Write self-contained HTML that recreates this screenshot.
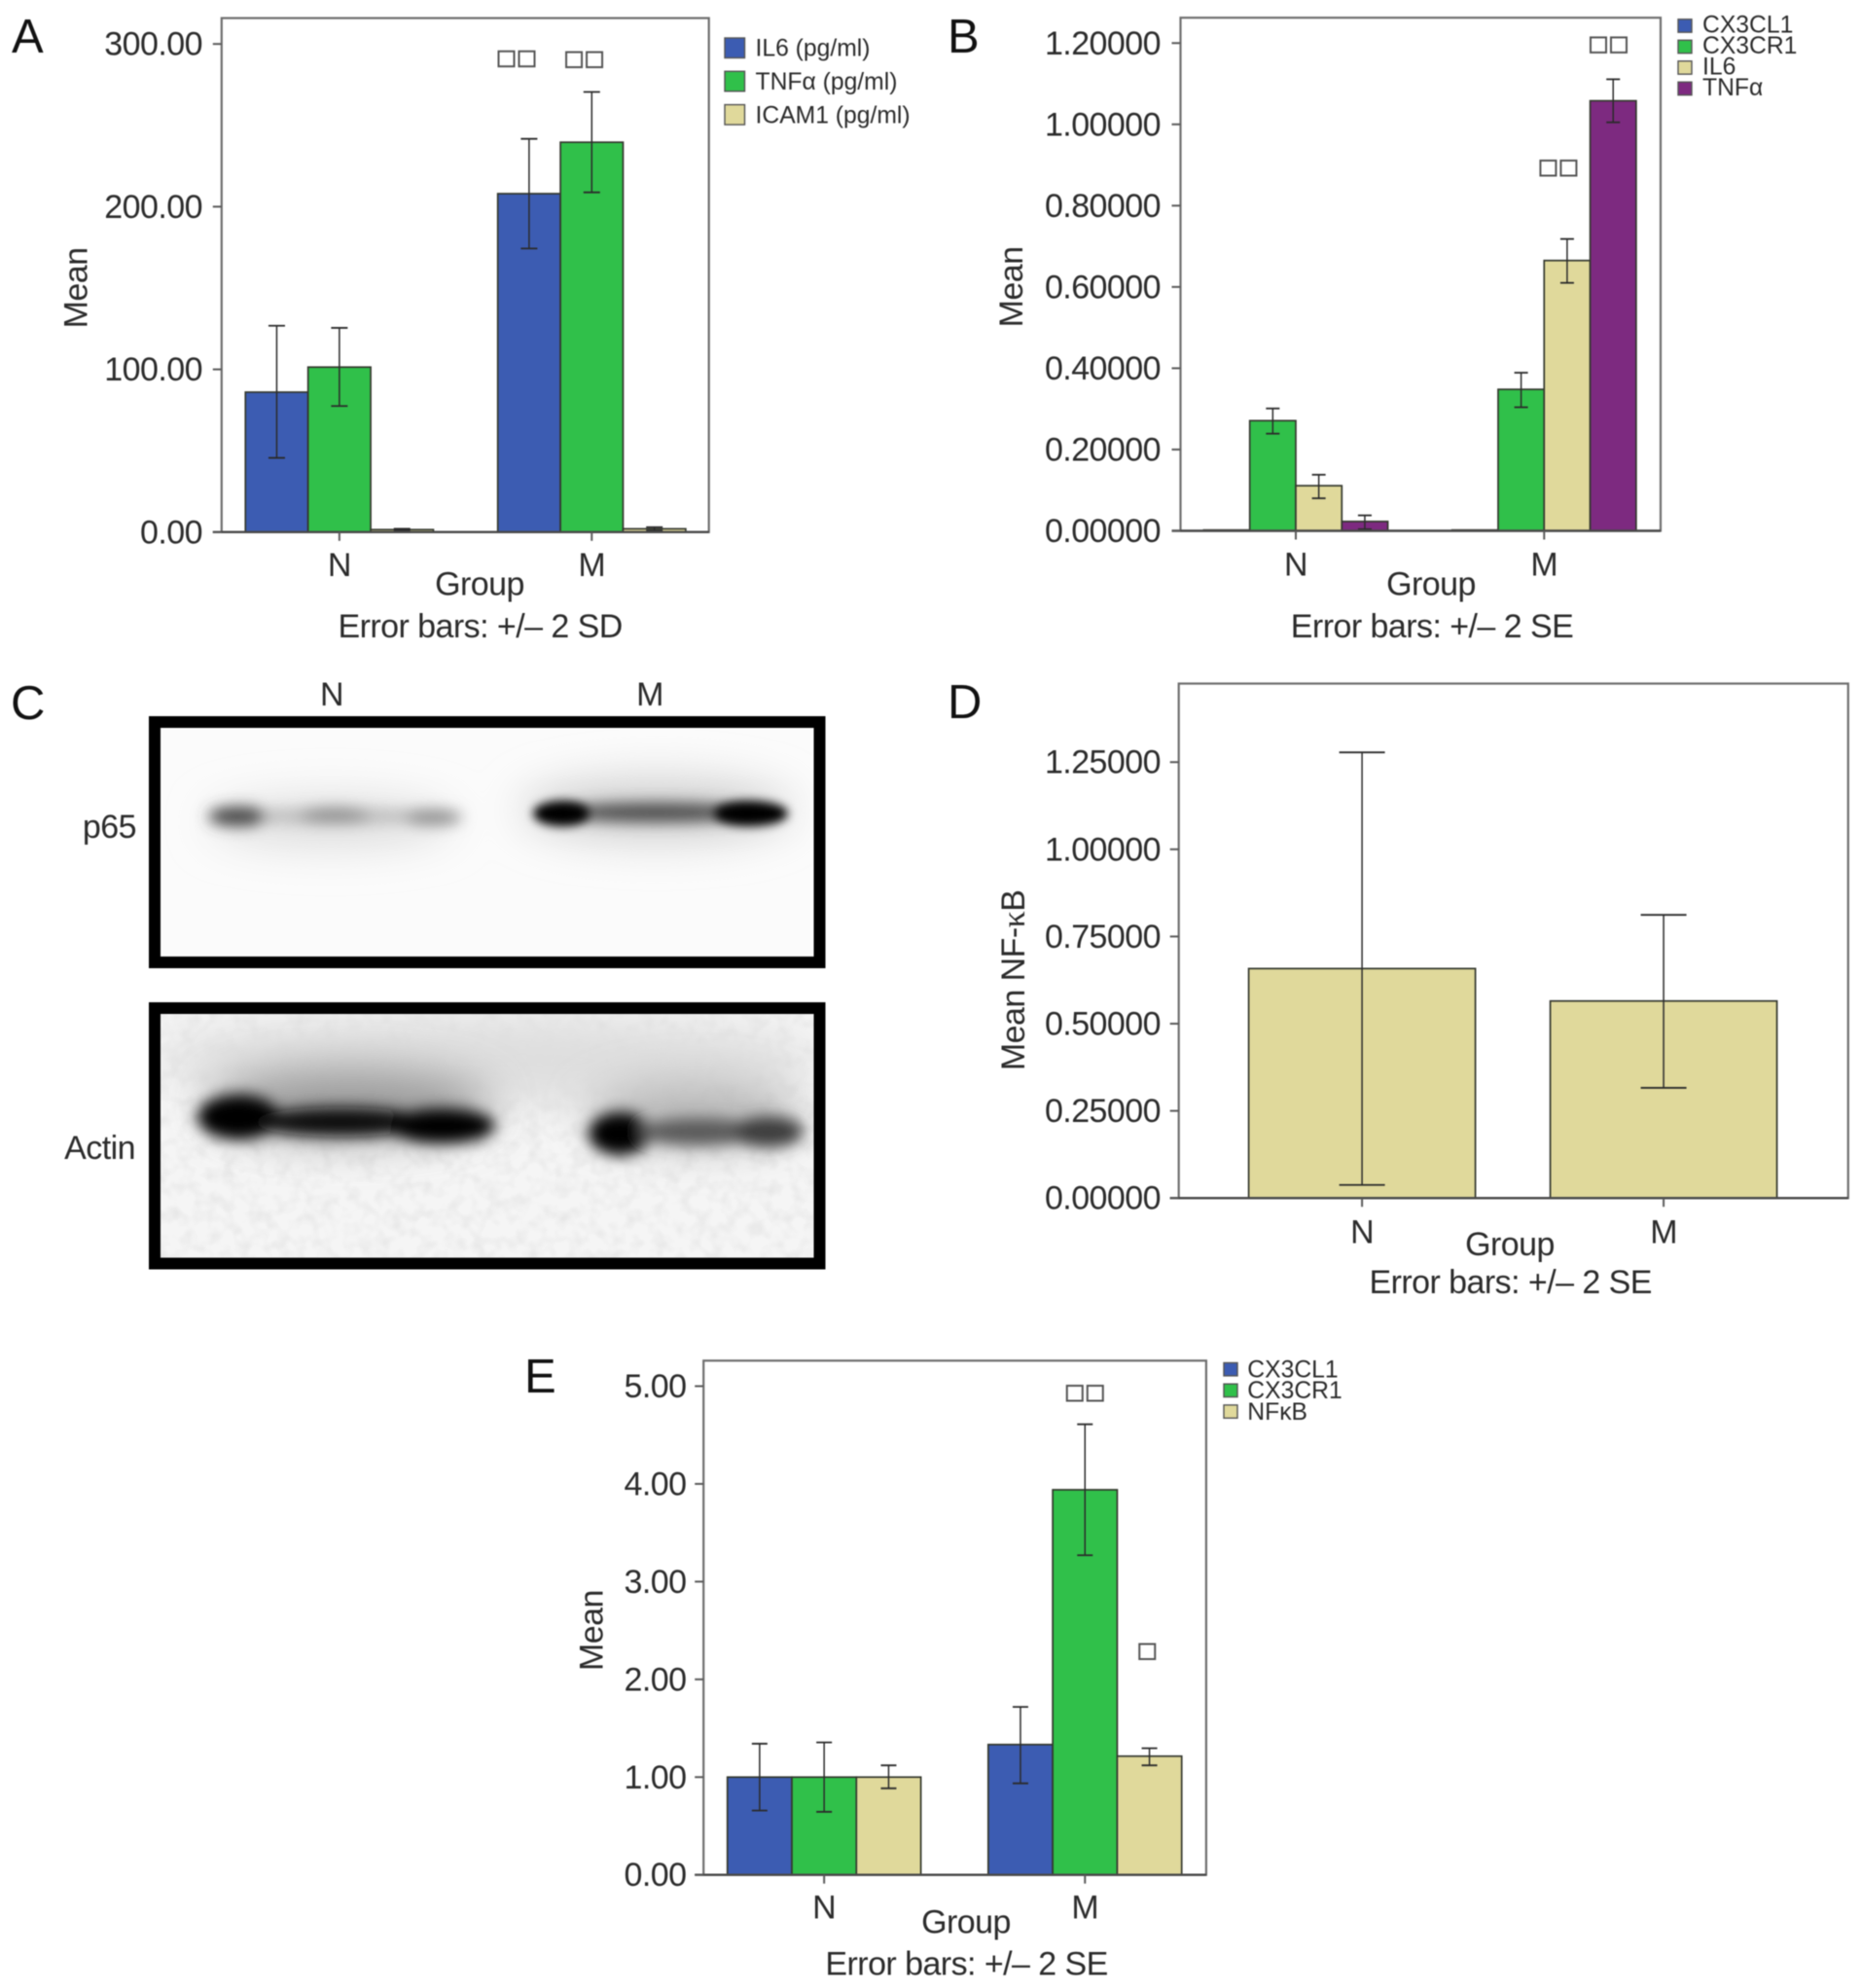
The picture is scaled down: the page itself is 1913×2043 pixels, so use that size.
<!DOCTYPE html>
<html lang="en">
<head>
<meta charset="utf-8">
<title>Cytokine and NF-κB bar charts with western blot</title>
<style>
  html, body { margin: 0; padding: 0; background: #fff; }
  #figure { display: block; filter: blur(0.6px); font-family: "Liberation Sans", sans-serif; }
  #figure text { fill: #2b2b2b; }
  .letter { font-size: 49px; fill: #111 !important; }
  .lab { font-size: 34px; letter-spacing: -0.55px; }
  .leg { font-size: 24.7px; }
  .sym { font-family: "Liberation Serif", serif; }
</style>
</head>
<body>
<svg id="figure" xmlns="http://www.w3.org/2000/svg" width="1913" height="2043" viewBox="0 0 1913 2043">
  <defs>
    <filter id="b3" x="-50%" y="-100%" width="200%" height="300%"><feGaussianBlur stdDeviation="5"/></filter>
    <filter id="b6" x="-50%" y="-100%" width="200%" height="300%"><feGaussianBlur stdDeviation="7.5"/></filter>
    <filter id="b20" x="-50%" y="-100%" width="200%" height="300%"><feGaussianBlur stdDeviation="22"/></filter>
    <filter id="grain" x="0" y="0" width="100%" height="100%">
      <feTurbulence type="fractalNoise" baseFrequency="0.07" numOctaves="2" seed="7"/>
      <feColorMatrix type="matrix" values="0 0 0 0 0.55  0 0 0 0 0.55  0 0 0 0 0.55  1.4 0 0 0 -0.58"/>
    </filter>
    <clipPath id="clipTop"><rect x="165" y="748" width="671.5" height="235"/></clipPath>
    <clipPath id="clipBot"><rect x="165" y="1042" width="671.5" height="250.5"/></clipPath>
  </defs>
  <rect x="0" y="0" width="1913" height="2043" fill="#fff"/>

  <!-- Panel letters -->
  <text class="letter" x="12" y="54">A</text>
  <text class="letter" x="974" y="54">B</text>
  <text class="letter" x="11" y="739">C</text>
  <text class="letter" x="974" y="738">D</text>
  <text class="letter" x="539" y="1431">E</text>

  <g id="panelA"></g>
  <g id="panelB"></g>
  <g id="panelD"></g>
  <g id="panelE"></g>

  <!-- Panel A titles -->
  <text class="lab" text-anchor="middle" transform="translate(89.5 296) rotate(-90)">Mean</text>
  <text class="lab" text-anchor="middle" x="493" y="611.5">Group</text>
  <text class="lab" text-anchor="middle" x="493.6" y="655">Error bars: +/– 2 SD</text>

  <!-- Panel B titles -->
  <text class="lab" text-anchor="middle" transform="translate(1051 295) rotate(-90)">Mean</text>
  <text class="lab" text-anchor="middle" x="1471" y="611.5">Group</text>
  <text class="lab" text-anchor="middle" x="1472" y="655">Error bars: +/– 2 SE</text>

  <!-- Panel C western blot -->
  <g>
    <text class="lab" text-anchor="middle" x="341" y="725">N</text>
    <text class="lab" text-anchor="middle" x="668" y="725">M</text>
    <text class="lab" text-anchor="end" x="140" y="861">p65</text>
    <text class="lab" text-anchor="end" x="139" y="1191">Actin</text>

    <g>
      <rect x="159" y="742" width="683.5" height="247" fill="#fbfbfb" stroke="#000" stroke-width="12"/>
      <g clip-path="url(#clipTop)">
        <g filter="url(#b20)">
          <ellipse cx="340" cy="845" rx="125" ry="24" fill="#dcdcdc"/>
          <ellipse cx="675" cy="832" rx="140" ry="32" fill="#d0d0d0"/>
        </g>
        <g>
          <g filter="url(#b6)">
            <ellipse cx="345" cy="839" rx="115" ry="7" fill="#b8b8b8"/>
            <ellipse cx="244" cy="839" rx="30" ry="10" fill="#444"/>
            <ellipse cx="344" cy="838" rx="36" ry="8" fill="#8c8c8c"/>
            <ellipse cx="445" cy="840" rx="30" ry="8" fill="#8c8c8c"/>
            <ellipse cx="675" cy="835" rx="100" ry="10" fill="#4c4c4c"/>
          </g>
          <g filter="url(#b3)">
            <ellipse cx="577" cy="836" rx="29" ry="13" fill="#000"/>
            <ellipse cx="772" cy="836" rx="38" ry="13" fill="#000"/>
          </g>
        </g>
      </g>
    </g>

    <g>
      <rect x="165" y="1042" width="671.5" height="250.5" fill="#f5f5f5"/>
      <g clip-path="url(#clipBot)">
        <rect x="165" y="1042" width="671.5" height="250.5" filter="url(#grain)" opacity="0.42"/>
        <ellipse cx="500" cy="1090" rx="340" ry="45" fill="#dedede" filter="url(#b20)"/>
        <g filter="url(#b20)">
          <ellipse cx="360" cy="1135" rx="145" ry="36" fill="#9a9a9a"/>
          <ellipse cx="715" cy="1145" rx="110" ry="32" fill="#b4b4b4"/>
        </g>
        <g>
          <g filter="url(#b6)">
            <ellipse cx="245" cy="1148" rx="42" ry="23" fill="#000"/>
            <ellipse cx="350" cy="1153" rx="90" ry="15" fill="#0d0d0d"/>
            <ellipse cx="455" cy="1157" rx="54" ry="18" fill="#000"/>
            <ellipse cx="637" cy="1165" rx="32" ry="22" fill="#000"/>
            <ellipse cx="718" cy="1163" rx="62" ry="14" fill="#5a5a5a"/>
            <ellipse cx="790" cy="1163" rx="36" ry="16" fill="#3c3c3c"/>
          </g>
        </g>
      </g>
      <rect x="159" y="1036" width="683.5" height="262.5" fill="none" stroke="#000" stroke-width="12"/>
    </g>
  </g>

  <!-- Panel D titles -->
  <text class="lab" text-anchor="middle" transform="translate(1053 1007.4) rotate(-90)">Mean NF-<tspan class="sym">κ</tspan>B</text>
  <text class="lab" text-anchor="middle" x="1552" y="1290">Group</text>
  <text class="lab" text-anchor="middle" x="1552.7" y="1329">Error bars: +/– 2 SE</text>

  <!-- Panel E titles -->
  <text class="lab" text-anchor="middle" transform="translate(619.3 1675.6) rotate(-90)">Mean</text>
  <text class="lab" text-anchor="middle" x="993" y="1986.7">Group</text>
  <text class="lab" text-anchor="middle" x="993.6" y="2029.7">Error bars: +/– 2 SE</text>
</svg>

<script>
// ---------- Shared categories ----------
const groups = ['N', 'M'];

// ---------- Panel A ----------
const aSeries = ['IL6 (pg/ml)', 'TNFα (pg/ml)', 'ICAM1 (pg/ml)'];
const aColors = ['#3c5cb2', '#30c04a', '#e0d99b'];
const aMeans = [[86, 101.4, 1.5], [208, 239.6, 2]];
const aErrHigh = [[126.8, 125.5, 2], [241.7, 270.5, 3]];
const aErrLow = [[45.6, 77.5, 1], [174.3, 208.8, 1]];
const aTicks = ['0.00', '100.00', '200.00', '300.00'];
const aSigGroup = [1, 1];
const aSigSlot = [-0.2, 0.88];
const aSigValue = [291, 290.5];
const aSigCount = [2, 2];

// ---------- Panel B ----------
const bSeries = ['CX3CL1', 'CX3CR1', 'IL6', 'TNFα'];
const bColors = ['#3c5cb2', '#30c04a', '#e0d99b', '#7d2a80'];
const bMeans = [[0.002, 0.271, 0.111, 0.023], [0.002, 0.348, 0.665, 1.058]];
const bErrHigh = [[null, 0.301, 0.138, 0.038], [null, 0.389, 0.718, 1.111]];
const bErrLow = [[null, 0.239, 0.080, 0.004], [null, 0.304, 0.610, 1.005]];
const bTicks = ['0.00000', '0.20000', '0.40000', '0.60000', '0.80000', '1.00000', '1.20000'];
const bSigGroup = [1, 1];
const bSigSlot = [2.9, 1.81];
const bSigValue = [1.196, 0.893];
const bSigCount = [2, 2];

// ---------- Panel D ----------
const dSeries = ['NF-κB'];
const dColors = ['#e0d99b'];
const dMeans = [[0.658], [0.565]];
const dErrHigh = [[1.278], [0.812]];
const dErrLow = [[0.0375], [0.316]];
const dTicks = ['0.00000', '0.25000', '0.50000', '0.75000', '1.00000', '1.25000'];

// ---------- Panel E ----------
const eSeries = ['CX3CL1', 'CX3CR1', 'NFκB'];
const eColors = ['#3c5cb2', '#30c04a', '#e0d99b'];
const eMeans = [[1, 1, 1], [1.333, 3.94, 1.214]];
const eErrHigh = [[1.342, 1.355, 1.12], [1.718, 4.61, 1.295]];
const eErrLow = [[0.658, 0.645, 0.885], [0.936, 3.27, 1.12]];
const eTicks = ['0.00', '1.00', '2.00', '3.00', '4.00', '5.00'];
const eSigGroup = [1, 1];
const eSigSlot = [1, 1.965];
const eSigValue = [4.93, 2.287];
const eSigCount = [2, 1];

const NS = 'http://www.w3.org/2000/svg';
function mk(tag, attrs, parent) {
  const el = document.createElementNS(NS, tag);
  for (const k in attrs) el.setAttribute(k, attrs[k]);
  parent.appendChild(el);
  return el;
}

function drawChart(cfg) {
  const root = document.getElementById(cfg.id);
  const L = cfg.layout;
  const n = cfg.series.length;

  // axis functions
  const yScale = v => L.bottom - (v / L.yMax) * (L.bottom - L.top);
  const groupX = g => L.left + (L.right - L.left) * L.groupFrac[g];
  const slotX = (g, s) => groupX(g) + (s - (n - 1) / 2) * L.barWidth;

  const frame = mk('rect', { x: L.left, y: L.top, width: L.right - L.left, height: L.bottom - L.top, fill: '#fff', stroke: '#6e6e6e', 'stroke-width': 2.2 }, root);
  
  

  // bars
  cfg.groups.forEach((gName, g) => {
    cfg.series.forEach((sName, s) => {
      const top = yScale(cfg.means[g][s]);
      const bar = mk('rect', {
        x: slotX(g, s) - L.barWidth / 2, y: top,
        width: L.barWidth, height: Math.max(0, L.bottom - top),
        fill: cfg.colors[s], stroke: '#34382e', 'stroke-width': 1.7
      }, root);
      
      
    });
  });

  // error bars
  cfg.groups.forEach((gName, g) => {
    cfg.series.forEach((sName, s) => {
      const hi = cfg.errHigh[g][s];
      const lo = cfg.errLow[g][s];
      if (hi === null || lo === null) return;
      const cx = slotX(g, s);
      const stem = mk('line', { x1: cx, x2: cx, y1: yScale(hi), y2: yScale(lo), stroke: '#2b2b2b', 'stroke-width': 1.5 }, root);
      
      
      const capHi = mk('line', { x1: cx - L.cap / 2, x2: cx + L.cap / 2, y1: yScale(hi), y2: yScale(hi), stroke: '#2b2b2b', 'stroke-width': 1.8 }, root);
      
      
      const capLo = mk('line', { x1: cx - L.cap / 2, x2: cx + L.cap / 2, y1: yScale(lo), y2: yScale(lo), stroke: '#2b2b2b', 'stroke-width': 1.8 }, root);
      
      
    });
  });

  // x baseline
  const axis = mk('line', { x1: L.left - 9, x2: L.right, y1: L.bottom, y2: L.bottom, stroke: '#4a4a4a', 'stroke-width': 2.4 }, root);
  
  

  // y ticks and labels
  cfg.ticks.forEach(label => {
    const y = yScale(parseFloat(label));
    const tick = mk('line', { x1: L.left - 9, x2: L.left, y1: y, y2: y, stroke: '#5a5a5a', 'stroke-width': 2 }, root);
    
    
    const t = mk('text', { x: L.tickRight, y: y + 11.5, 'text-anchor': 'end', class: 'lab' }, root);
    
    
    t.textContent = label;
  });

  // x ticks and category labels
  cfg.groups.forEach((gName, g) => {
    const x = groupX(g);
    const tick = mk('line', { x1: x, x2: x, y1: L.bottom, y2: L.bottom + 9, stroke: '#5a5a5a', 'stroke-width': 2 }, root);
    
    
    const t = mk('text', { x: x, y: L.bottom + L.catOffset, 'text-anchor': 'middle', class: 'lab' }, root);
    
    
    t.textContent = gName;
  });

  // significance markers (unrendered glyph boxes in the source figure)
  (cfg.sigValue || []).forEach((v, i) => {
    const count = cfg.sigCount[i];
    const cx = slotX(cfg.sigGroup[i], cfg.sigSlot[i]);
    const cy = yScale(v);
    for (let k = 0; k < count; k++) {
      const x = cx + (k - (count - 1) / 2) * 21;
      const box = mk('rect', { x: x - 8, y: cy - 7.5, width: 16, height: 15.5, fill: '#fff', stroke: '#555', 'stroke-width': 2 }, root);
      
      
    }
  });

  // legend
  if (cfg.legend) {
    const G = cfg.legend;
    cfg.series.forEach((sName, s) => {
      const yTop = G.y + s * G.step;
      const sw = mk('rect', { x: G.x, y: yTop, width: G.size, height: G.height, fill: cfg.colors[s], stroke: '#555', 'stroke-width': 1.4 }, root);
      
      
      const t = mk('text', { x: G.textX, y: yTop + G.baseline, class: 'leg' }, root);
      
      
      t.textContent = sName;
    });
  }
}

drawChart({
  id: 'panelA', groups: groups, series: aSeries, colors: aColors, means: aMeans, errHigh: aErrHigh, errLow: aErrLow, ticks: aTicks,
  sigGroup: aSigGroup, sigSlot: aSigSlot, sigValue: aSigValue, sigCount: aSigCount,
  layout: { left: 227.8, right: 728.7, top: 18.6, bottom: 546.8, yMax: 315.9, groupFrac: [0.2417, 0.7596], barWidth: 64.4, cap: 17, tickRight: 208, catOffset: 45 },
  legend: { x: 745, y: 39, size: 20.5, height: 20.5, step: 34.3, textX: 776.5, baseline: 18.7 }
});
drawChart({
  id: 'panelB', groups: groups, series: bSeries, colors: bColors, means: bMeans, errHigh: bErrHigh, errLow: bErrLow, ticks: bTicks,
  sigGroup: bSigGroup, sigSlot: bSigSlot, sigValue: bSigValue, sigCount: bSigCount,
  layout: { left: 1213.5, right: 1707, top: 18.2, bottom: 545.5, yMax: 1.2624, groupFrac: [0.2401, 0.7574], barWidth: 47.3, cap: 14, tickRight: 1193, catOffset: 46 },
  legend: { x: 1725, y: 19.8, size: 14, height: 13.4, step: 21.5, textX: 1750, baseline: 13.8 }
});
drawChart({
  id: 'panelD', groups: groups, series: dSeries, colors: dColors, means: dMeans, errHigh: dErrHigh, errLow: dErrLow, ticks: dTicks,
  layout: { left: 1211.7, right: 1899.8, top: 702.5, bottom: 1231.2, yMax: 1.4752, groupFrac: [0.2738, 0.7243], barWidth: 233, cap: 47, tickRight: 1193, catOffset: 46.5 }
});
drawChart({
  id: 'panelE', groups: groups, series: eSeries, colors: eColors, means: eMeans, errHigh: eErrHigh, errLow: eErrLow, ticks: eTicks,
  sigGroup: eSigGroup, sigSlot: eSigSlot, sigValue: eSigValue, sigCount: eSigCount,
  layout: { left: 723.2, right: 1239.9, top: 1398.3, bottom: 1926.7, yMax: 5.261, groupFrac: [0.2399, 0.7588], barWidth: 66.3, cap: 16, tickRight: 705.5, catOffset: 45 },
  legend: { x: 1258, y: 1400.5, size: 14, height: 13.4, step: 21.7, textX: 1282.3, baseline: 15 }
});
</script>
</body>
</html>
